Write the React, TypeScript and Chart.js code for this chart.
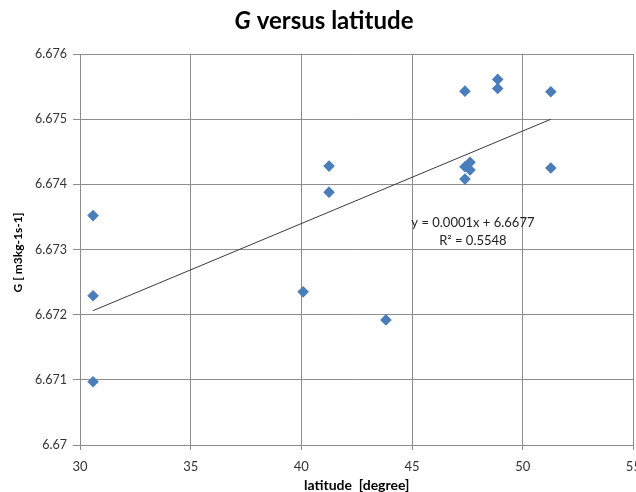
import { useEffect, useRef } from 'react';
import { Chart, registerables } from 'chart.js';

Chart.register(...registerables);

// ---- data ----
const latitude = [30.59, 30.59, 30.59, 40.08, 41.25, 41.25, 43.82, 47.39, 47.39, 47.39, 47.62, 47.62, 48.87, 48.87, 51.27, 51.27];
const gValues = [6.67352, 6.67229, 6.67097, 6.67235, 6.67428, 6.67388, 6.67192, 6.67543, 6.67427, 6.67408, 6.67434, 6.67422, 6.67561, 6.67547, 6.67542, 6.67425];
const xTicks = [30, 35, 40, 45, 50, 55];
const xTickLabels = ['30', '35', '40', '45', '50', '55'];
const yTicks = [6.67, 6.671, 6.672, 6.673, 6.674, 6.675, 6.676];
const yTickLabels = ['6.67', '6.671', '6.672', '6.673', '6.674', '6.675', '6.676'];
const titleItalic = 'G';
const titleRest = ' versus latitude';
const yTitle = 'G [ m3kg-1s-1]';
const xTitle = 'latitude  [degree]';
const equationText = 'y = 0.0001x + 6.6677';
const r2Text = 'R² = 0.5548';
const equationAnchor = { x: 47.75, y1: 6.67341, y2: 6.67314 };

const FONT = 'Lato, "Open Sans", sans-serif';

function linearFit(xs: number[], ys: number[]) {
  const n = xs.length;
  const mx = xs.reduce((a, b) => a + b, 0) / n;
  const my = ys.reduce((a, b) => a + b, 0) / n;
  let sxy = 0;
  let sxx = 0;
  for (let i = 0; i < n; i++) {
    sxy += (xs[i] - mx) * (ys[i] - my);
    sxx += (xs[i] - mx) * (xs[i] - mx);
  }
  const slope = sxy / sxx;
  return { slope, intercept: my - slope * mx };
}

const textPlugin = {
  id: 'textPlugin',
  afterDraw(chart: any) {
    const ctx = chart.ctx as CanvasRenderingContext2D;
    const area = chart.chartArea;
    ctx.save();
    ctx.fillStyle = '#000';
    // title
    ctx.textBaseline = 'alphabetic';
    ctx.textAlign = 'left';
    ctx.font = `italic bold 24px ${FONT}`;
    const w1 = ctx.measureText(titleItalic).width;
    ctx.font = `bold 24px ${FONT}`;
    const w2 = ctx.measureText(titleRest).width;
    const tx = 324 - (w1 + w2) / 2;
    ctx.font = `italic bold 24px ${FONT}`;
    ctx.fillText(titleItalic, tx, 29);
    ctx.font = `bold 24px ${FONT}`;
    ctx.fillText(titleRest, tx + w1, 29);

    // x axis title
    ctx.textAlign = 'center';
    ctx.textBaseline = 'middle';
    ctx.font = `bold 14px ${FONT}`;
    ctx.fillText(xTitle, (area.left + area.right) / 2, 485);

    // y axis title
    ctx.save();
    ctx.translate(18, (area.top + area.bottom) / 2 + 3);
    ctx.rotate(-Math.PI / 2);
    ctx.font = `bold 12px ${FONT}`;
    ctx.fillText(yTitle, 0, 0);
    ctx.restore();

    // equation
    const xs = chart.scales.x;
    const ys = chart.scales.y;
    ctx.font = `13px ${FONT}`;
    ctx.fillStyle = '#222';
    const ex = xs.getPixelForValue(equationAnchor.x);
    ctx.fillText(equationText, ex, ys.getPixelForValue(equationAnchor.y1));
    ctx.fillText(r2Text, ex, ys.getPixelForValue(equationAnchor.y2));
    ctx.restore();
  },
};

export default function App() {
  const ref = useRef<HTMLCanvasElement>(null);
  useEffect(() => {
    if (!ref.current) return;
    const fit = linearFit(latitude, gValues);
    const xmin = Math.min(...latitude);
    const xmax = Math.max(...latitude);
    const chart = new Chart(ref.current, {
      type: 'scatter',
      data: {
        datasets: [
          {
            type: 'line',
            label: 'trend',
            data: [
              { x: xmin, y: fit.slope * xmin + fit.intercept },
              { x: xmax, y: fit.slope * xmax + fit.intercept },
            ],
            borderColor: '#3a3a3a',
            borderWidth: 1,
            pointRadius: 0,
            fill: false,
            order: 2,
          } as any,
          {
            label: 'G',
            data: latitude.map((x, i) => ({ x, y: gValues[i] })),
            pointStyle: 'rectRot',
            pointRadius: 5.8,
            backgroundColor: '#4a7ebb',
            borderColor: '#4a7ebb',
            borderWidth: 0,
            order: 1,
          },
        ],
      },
      options: {
        animation: false,
        responsive: false,
        layout: { padding: { top: 54, right: 16.6, left: 0, bottom: 0 } },
        plugins: {
          legend: { display: false },
          title: { display: false },
          tooltip: { enabled: false },
        },
        scales: {
          x: {
            type: 'linear',
            min: 30,
            max: 55,
            afterBuildTicks: (s: any) => {
              s.ticks = xTicks.map((v) => ({ value: v }));
            },
            afterFit: (s: any) => {
              s.height = 47;
            },
            ticks: {
              callback: (_v: any, i: number) => xTickLabels[i],
              color: '#333',
              font: { family: FONT, size: 13 },
              padding: 9,
              maxRotation: 0,
            },
            grid: { color: '#8e8e8e', lineWidth: 1, tickLength: 5 },
            border: { color: '#8e8e8e' },
          },
          y: {
            type: 'linear',
            min: 6.67,
            max: 6.676,
            afterBuildTicks: (s: any) => {
              s.ticks = yTicks.map((v) => ({ value: v }));
            },
            afterFit: (s: any) => {
              s.width = 80;
            },
            ticks: {
              callback: (_v: any, i: number) => yTickLabels[i],
              color: '#333',
              font: { family: FONT, size: 12.5 },
              padding: 6,
            },
            grid: { color: '#8e8e8e', lineWidth: 1, tickLength: 7 },
            border: { color: '#8e8e8e' },
          },
        },
      },
      plugins: [textPlugin],
    });
    return () => chart.destroy();
  }, []);
  return (
    <div style={{ position: 'absolute', left: 0, top: 0, width: 636, height: 492, overflow: 'hidden', background: '#fff' }}>
      <canvas ref={ref} width={650} height={492} />
    </div>
  );
}
